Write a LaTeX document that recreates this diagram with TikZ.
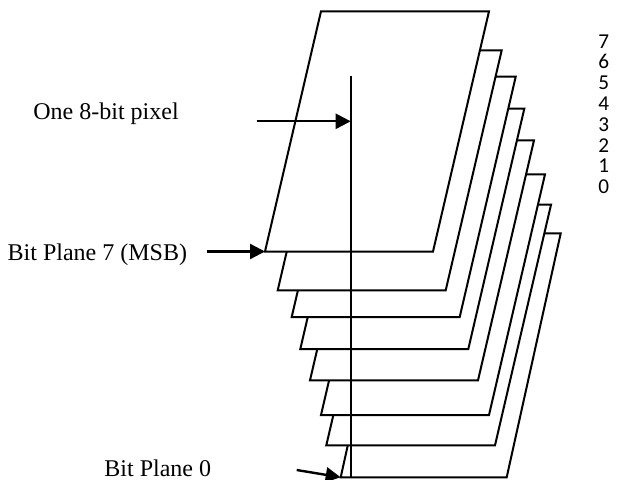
\documentclass[tikz,border=0pt]{standalone}
\usepackage{fontspec}
\setmainfont{Liberation Serif}
\newfontfamily\digitfont{Carlito}
\usetikzlibrary{arrows.meta}
\newcommand\bitplane[6]{%
  \coordinate (#1-bl) at (#2,#4);
  \coordinate (#1-br) at (#3,#4);
  \coordinate (#1-tr) at (#3+#6,#5);
  \coordinate (#1-tl) at (#2+#6,#5);
  \draw[plane] (#1-bl) -- (#1-br) -- (#1-tr) -- (#1-tl) -- cycle;}
\begin{document}
\begin{tikzpicture}[x=0.5pt,y=-0.5pt,
  plane/.style={draw=black, fill=white, line width=1pt, line join=miter},
  pointer/.style={line width=1.2pt, -{Triangle[length=7.5pt,width=7.5pt]}},
  pixline/.style={line width=1pt},
  lbl/.style={font=\fontsize{12}{14}\selectfont, inner sep=0pt, anchor=base west},
  num/.style={font=\digitfont\fontsize{10.6}{12}\selectfont, inner sep=0pt, anchor=base west}]
\useasboundingbox (0,0) rectangle (619,480);
% bit planes, back (0) to front (7)
\bitplane{p0}{340.7}{506.7}{477.3}{233.3}{54}
\bitplane{p1}{326.3}{495}{445.3}{204.7}{56}
\bitplane{p2}{321}{489}{415}{174.3}{56}
\bitplane{p3}{310}{478}{380.3}{140.3}{56}
\bitplane{p4}{300.3}{468.3}{349}{108.7}{56}
\bitplane{p5}{291.7}{459.7}{317}{76.7}{56}
\bitplane{p6}{277.7}{445.7}{290.3}{50.3}{56}
\bitplane{p7}{265}{433}{251.5}{11.3}{56}
% pixel line
\coordinate (pixtop) at (350.7,76.3);
\coordinate (pixbot) at (350.7,478);
\coordinate (pixhit) at (350.7,121.3);
\draw[pixline] (pixtop) -- (pixbot);
% labels
\node[lbl] (lpix) at (33,120) {One 8-bit pixel};
\node[lbl] (lmsb) at (7.3,260) {Bit Plane 7 (MSB)};
\node[lbl] (lzero) at (104,476) {Bit Plane 0};
% arrows
\coordinate (a1) at (256.7,121.3);
\coordinate (a2) at (206.7,251.5);
\coordinate (a3) at (296.7,470);
\draw[pointer] (a1) -- (pixhit);
\draw[pointer] (a2) -- (p7-bl);
\draw[pointer] (a3) -- (p0-bl);
% plane numbers
\node[num] (n7) at (598,48.3) {7};
\node[num] (n6) at (598,69) {6};
\node[num] (n5) at (598,90) {5};
\node[num] (n4) at (598,111) {4};
\node[num] (n3) at (598,132) {3};
\node[num] (n2) at (598,152.5) {2};
\node[num] (n1) at (598,173) {1};
\node[num] (n0) at (598,194) {0};
\end{tikzpicture}
\end{document}
